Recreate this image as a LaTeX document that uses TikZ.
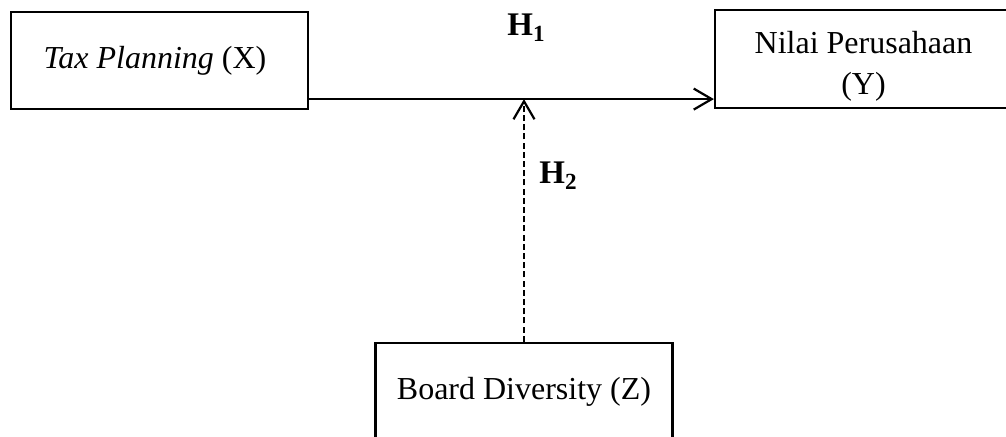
\documentclass[tikz,border=0pt]{standalone}
\usepackage{fontspec}
\setmainfont{Liberation Serif}
\usetikzlibrary{arrows.meta,calc}
\begin{document}
\begin{tikzpicture}[x=0.5pt,y=-0.5pt,
  box/.style={draw, line width=1.1pt, rectangle, minimum width=148.5pt, minimum height=48.5pt, inner sep=0pt, font=\fontsize{16}{20.5}\selectfont},
  lbl/.style={font=\fontsize{16.5}{19}\selectfont\bfseries, anchor=base west, inner sep=0pt},
  conn/.style={line width=1.1pt, -{Straight Barb[length=9pt, width=10.5pt, line width=1.1pt]}},
  dashconn/.style={conn, dash pattern=on 3pt off 1.6pt}]
\useasboundingbox (0,0) rectangle (1006,437);
\clip (0,0) rectangle (1006,437);
\node[box] (X) at (159.5,60.5) {\textit{Tax Planning} (X)\hspace*{4.5pt}};
\node[box, minimum height=49pt] (Y) at (863.5,59) {\begin{tabular}{@{}c@{}}\rule{0pt}{20.85pt}Nilai Perusahaan\\(Y)\end{tabular}};
\node[box] (Z) at (524,391.5) {Board Diversity (Z)};
\coordinate (a) at ($(X.south east)+(0,-11)$);
\coordinate (b) at ($(Y.south west)+(0,-10)$);
\draw[conn] (a) -- (b);
\draw[dashconn] (Z.north) -- (Z.north |- a);
\node[lbl] (h1) at (507,36) {H\textsubscript{1}};
\node[lbl] (h2) at (539,184) {H\textsubscript{2}};
\end{tikzpicture}
\end{document}
